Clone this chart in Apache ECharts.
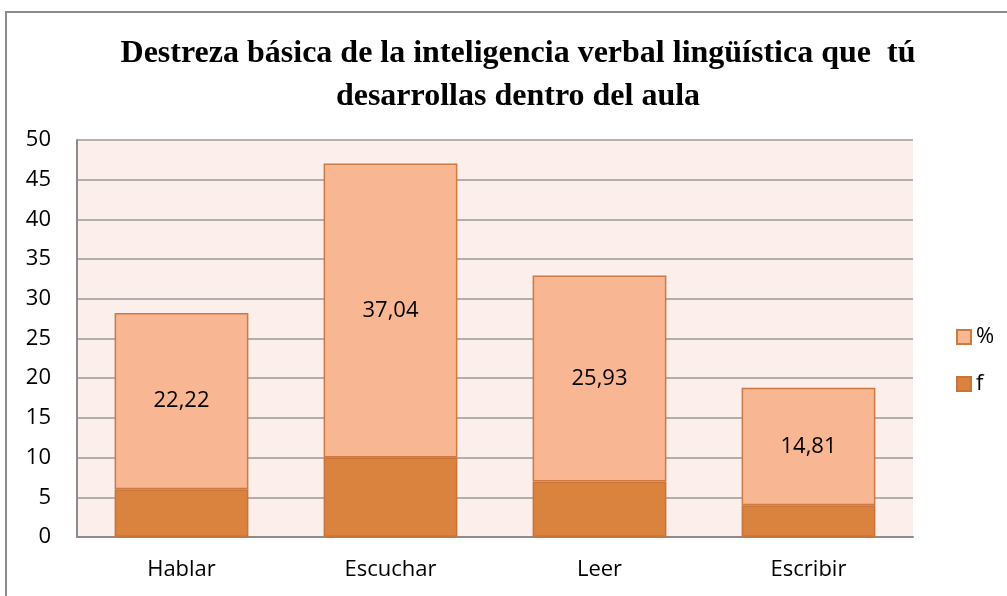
<!DOCTYPE html>
<html>
<head>
<meta charset="utf-8">
<script src="https://cdn.jsdelivr.net/npm/echarts@6/dist/echarts.min.js"></script>
<style>
  html, body { margin: 0; padding: 0; background: #fff; }
  #chart { width: 1007px; height: 596px; }
</style>
</head>
<body>
<div id="chart"></div>
<script>
// --- Data ---
const categories = ['Hablar', 'Escuchar', 'Leer', 'Escribir'];
const fValues = [6, 10, 7, 4];
const pctValues = [22.22, 37.04, 25.93, 14.81];

const chart = echarts.init(document.getElementById('chart'));

const option = {
    backgroundColor: '#fff',
    animation: false,
    title: {
        text: 'Destreza básica de la inteligencia verbal lingüística que  tú\ndesarrollas dentro del aula',
        left: 513,
        textAlign: 'center',
        top: 27,
        textStyle: {
            fontFamily: 'Liberation Serif',
            fontWeight: 'bold',
            fontSize: 32,
            lineHeight: 43,
            color: '#000'
        }
    },
    graphic: [{
        type: 'rect',
        shape: { x: 6, y: 12, width: 1010, height: 600 },
        style: { fill: 'none', stroke: '#8c8c8c', lineWidth: 2 },
        silent: true
    }],
    legend: {
        orient: 'vertical',
        left: 951,
        top: 321,
        itemGap: 25,
        itemWidth: 14,
        itemHeight: 14,
        icon: 'rect',
        data: ['%', 'f'],
        textStyle: { fontFamily: 'Open Sans', fontSize: 22, color: '#000', padding: [0, 0, 0, 0] }
    },
    grid: {
        left: 77, right: 94, top: 140, bottom: 59,
        show: true, backgroundColor: '#fceeea', borderWidth: 0
    },
    xAxis: {
        type: 'category',
        data: categories,
        axisLine: { lineStyle: { color: '#8c8c8c', width: 2 } },
        axisTick: { show: false },
        axisLabel: { fontFamily: 'Open Sans', fontSize: 22, color: '#000', margin: 22 }
    },
    yAxis: {
        type: 'value',
        min: 0, max: 50, interval: 5,
        axisLine: { show: true, lineStyle: { color: '#8c8c8c', width: 2 } },
        axisTick: { show: false },
        axisLabel: { fontFamily: 'Open Sans', fontSize: 22, color: '#000', margin: 26 },
        splitLine: { lineStyle: { color: '#999999', width: 1.5 } }
    },
    series: [{
        name: 'f',
        type: 'bar',
        stack: 'total',
        data: fValues,
        barWidth: '64%',
        itemStyle: { color: '#d9833e', borderColor: '#c9733a', borderWidth: 1.5 }
    }, {
        name: '%',
        type: 'bar',
        stack: 'total',
        data: pctValues,
        barWidth: '64%',
        itemStyle: { color: '#f9b692', borderColor: '#cd7a40', borderWidth: 1.5 },
        label: {
            show: true,
            position: 'inside',
            fontFamily: 'Open Sans',
            fontSize: 22,
            color: '#000',
            formatter: (p) => String(p.value).replace('.', ',')
        }
    }]
};

chart.setOption(option);
</script>
</body>
</html>
